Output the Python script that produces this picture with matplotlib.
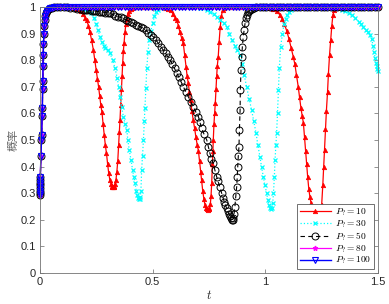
import numpy as np
import matplotlib
matplotlib.use("Agg")
import matplotlib.pyplot as plt

plt.rcParams['mathtext.fontset'] = 'cm'

# shared initial transient (all curves start together)
t_rise = [0.0, 0.0002, 0.0004, 0.0006, 0.0008, 0.001, 0.0012, 0.0014, 0.004, 0.0065,
          0.0075, 0.009, 0.0105, 0.0115, 0.0125, 0.0135, 0.0145, 0.0155, 0.017, 0.019,
          0.021, 0.024, 0.028, 0.033, 0.039, 0.046, 0.054, 0.062]
p_rise = [0.295, 0.30, 0.31, 0.32, 0.33, 0.34, 0.35, 0.36, 0.44, 0.50,
          0.52, 0.59, 0.62, 0.69, 0.72, 0.78, 0.82, 0.86, 0.90, 0.93,
          0.95, 0.965, 0.977, 0.986, 0.992, 0.996, 0.998, 1.0]

# P = 10
red_pts = [(0.075, 1.0), (0.09, 1.0), (0.105, 1.0), (0.12, 1.0), (0.135, 1.0), (0.15, 0.998),
           (0.165, 0.993), (0.18, 0.985), (0.19, 0.975), (0.2, 0.96), (0.207, 0.95), (0.215, 0.93),
           (0.222, 0.905), (0.229, 0.875), (0.237, 0.838), (0.243, 0.80), (0.249, 0.765), (0.255, 0.73),
           (0.26, 0.70), (0.265, 0.665), (0.27, 0.63), (0.275, 0.605), (0.28, 0.56), (0.285, 0.52),
           (0.29, 0.48), (0.295, 0.45), (0.3, 0.41), (0.305, 0.375), (0.31, 0.35), (0.315, 0.335),
           (0.318, 0.327), (0.321, 0.323), (0.324, 0.322), (0.327, 0.323), (0.33, 0.327), (0.333, 0.335),
           (0.337, 0.35), (0.341, 0.38), (0.345, 0.42), (0.349, 0.48), (0.352, 0.53), (0.355, 0.575),
           (0.358, 0.63), (0.361, 0.69), (0.364, 0.74), (0.367, 0.79), (0.37, 0.835), (0.373, 0.865),
           (0.377, 0.905), (0.381, 0.935), (0.385, 0.955), (0.39, 0.972), (0.396, 0.985), (0.403, 0.993),
           (0.41, 0.997), (0.42, 1.0), (0.435, 1.0), (0.45, 1.0), (0.465, 1.0), (0.48, 1.0),
           (0.495, 1.0), (0.51, 1.0), (0.525, 1.0), (0.54, 1.0), (0.555, 0.998), (0.57, 0.993),
           (0.58, 0.987), (0.59, 0.975), (0.6, 0.96), (0.607, 0.95), (0.614, 0.93), (0.621, 0.905),
           (0.628, 0.885), (0.636, 0.863), (0.642, 0.82), (0.648, 0.775), (0.653, 0.74), (0.658, 0.713),
           (0.663, 0.68), (0.668, 0.65), (0.674, 0.61), (0.68, 0.575), (0.686, 0.545), (0.692, 0.51),
           (0.698, 0.48), (0.703, 0.46), (0.708, 0.42), (0.713, 0.38), (0.717, 0.35), (0.722, 0.31),
           (0.727, 0.28), (0.732, 0.256), (0.736, 0.245), (0.74, 0.239), (0.744, 0.237), (0.748, 0.239),
           (0.752, 0.245), (0.756, 0.26), (0.759, 0.29), (0.762, 0.337), (0.765, 0.41), (0.767, 0.46),
           (0.769, 0.50), (0.772, 0.56), (0.775, 0.60), (0.778, 0.64), (0.781, 0.69), (0.784, 0.74),
           (0.787, 0.78), (0.791, 0.813), (0.795, 0.87), (0.8, 0.926), (0.805, 0.965), (0.81, 0.99),
           (0.818, 0.997), (0.826, 1.0), (0.84, 1.0), (0.855, 1.0), (0.87, 1.0), (0.885, 1.0),
           (0.9, 1.0), (0.915, 1.0), (0.93, 1.0), (0.945, 1.0), (0.96, 1.0), (0.975, 1.0),
           (0.99, 1.0), (1.005, 1.0), (1.02, 0.998), (1.035, 0.993), (1.05, 0.985), (1.065, 0.97),
           (1.075, 0.955), (1.085, 0.935), (1.095, 0.91), (1.105, 0.88), (1.115, 0.845), (1.124, 0.813),
           (1.131, 0.785), (1.138, 0.745), (1.146, 0.70), (1.152, 0.66), (1.158, 0.62), (1.164, 0.59),
           (1.169, 0.563), (1.174, 0.51), (1.179, 0.46), (1.183, 0.41), (1.188, 0.36), (1.193, 0.315),
           (1.198, 0.285), (1.203, 0.262), (1.208, 0.245), (1.213, 0.23), (1.218, 0.22), (1.223, 0.213),
           (1.228, 0.21), (1.233, 0.212), (1.238, 0.218), (1.243, 0.23), (1.247, 0.245), (1.25, 0.256),
           (1.255, 0.33), (1.259, 0.40), (1.263, 0.462), (1.267, 0.54), (1.271, 0.61), (1.276, 0.68),
           (1.28, 0.75), (1.285, 0.82), (1.29, 0.876), (1.295, 0.93), (1.3, 0.97), (1.306, 0.99),
           (1.314, 0.997), (1.322, 1.0), (1.335, 1.0), (1.35, 1.0), (1.365, 1.0), (1.38, 1.0),
           (1.395, 1.0), (1.41, 1.0), (1.425, 1.0), (1.44, 1.0), (1.455, 1.0), (1.47, 1.0),
           (1.485, 1.0), (1.5, 1.0)]

# P = 30
cyan_pts = [(0.075, 1.0), (0.09, 1.0), (0.105, 1.0), (0.12, 1.0), (0.135, 1.0), (0.15, 1.0),
            (0.165, 1.0), (0.18, 0.998), (0.195, 0.994), (0.21, 0.988), (0.225, 0.978), (0.24, 0.96),
            (0.25, 0.935), (0.258, 0.912), (0.266, 0.888), (0.274, 0.87), (0.282, 0.855), (0.29, 0.845),
            (0.3, 0.838), (0.311, 0.826), (0.322, 0.80), (0.333, 0.77), (0.343, 0.732), (0.349, 0.70),
            (0.355, 0.663), (0.362, 0.625), (0.37, 0.588), (0.378, 0.56), (0.385, 0.538), (0.39, 0.50),
            (0.396, 0.462), (0.404, 0.425), (0.411, 0.387), (0.417, 0.36), (0.422, 0.337), (0.427, 0.31),
            (0.431, 0.293), (0.435, 0.282), (0.439, 0.277), (0.442, 0.278), (0.445, 0.285), (0.448, 0.31),
            (0.451, 0.387), (0.455, 0.44), (0.459, 0.50), (0.463, 0.57), (0.466, 0.619), (0.47, 0.694),
            (0.474, 0.77), (0.479, 0.83), (0.485, 0.875), (0.492, 0.91), (0.5, 0.94), (0.508, 0.965),
            (0.516, 0.98), (0.525, 0.99), (0.535, 0.997), (0.545, 1.0), (0.56, 1.0), (0.575, 1.0),
            (0.59, 1.0), (0.605, 1.0), (0.62, 1.0), (0.635, 1.0), (0.65, 1.0), (0.665, 1.0),
            (0.68, 1.0), (0.695, 1.0), (0.71, 0.998), (0.725, 0.995), (0.74, 0.99), (0.755, 0.983),
            (0.77, 0.973), (0.785, 0.962), (0.8, 0.95), (0.815, 0.94), (0.828, 0.926), (0.84, 0.9),
            (0.852, 0.875), (0.864, 0.855), (0.876, 0.838), (0.888, 0.82), (0.897, 0.785), (0.906, 0.745),
            (0.917, 0.70), (0.928, 0.655), (0.939, 0.613), (0.949, 0.57), (0.959, 0.525), (0.967, 0.48),
            (0.976, 0.437), (0.983, 0.40), (0.991, 0.362), (0.998, 0.33), (1.006, 0.30), (1.011, 0.275),
            (1.016, 0.255), (1.021, 0.243), (1.025, 0.24), (1.029, 0.245), (1.033, 0.265), (1.036, 0.30),
            (1.04, 0.36), (1.043, 0.425), (1.047, 0.48), (1.05, 0.525), (1.054, 0.6), (1.058, 0.688),
            (1.062, 0.77), (1.068, 0.85), (1.076, 0.90), (1.083, 0.935), (1.09, 0.955), (1.097, 0.97),
            (1.105, 0.98), (1.115, 0.99), (1.125, 0.997), (1.14, 1.0), (1.155, 1.0), (1.17, 1.0),
            (1.185, 1.0), (1.2, 1.0), (1.215, 1.0), (1.23, 1.0), (1.245, 1.0), (1.26, 1.0),
            (1.275, 1.0), (1.29, 1.0), (1.305, 1.0), (1.325, 0.999), (1.34, 0.99), (1.355, 0.985),
            (1.37, 0.978), (1.385, 0.97), (1.4, 0.958), (1.415, 0.945), (1.425, 0.935), (1.435, 0.925),
            (1.445, 0.915), (1.455, 0.905), (1.465, 0.895), (1.472, 0.88), (1.478, 0.855), (1.483, 0.83),
            (1.487, 0.81), (1.491, 0.79), (1.494, 0.778), (1.497, 0.768), (1.5, 0.76)]

# P = 50
black_pts = [(0.075, 1.0), (0.09, 1.0), (0.105, 1.0), (0.12, 0.999), (0.135, 0.998), (0.15, 0.996),
             (0.165, 0.994), (0.178, 0.992), (0.19, 0.99), (0.2, 0.989), (0.21, 0.988), (0.22, 0.987),
             (0.23, 0.986), (0.24, 0.985), (0.25, 0.984), (0.26, 0.983), (0.27, 0.982), (0.28, 0.981),
             (0.29, 0.979), (0.3, 0.978), (0.311, 0.976), (0.322, 0.972), (0.334, 0.968), (0.346, 0.964),
             (0.358, 0.961), (0.37, 0.957), (0.381, 0.953), (0.392, 0.948), (0.403, 0.944), (0.414, 0.939),
             (0.425, 0.934), (0.436, 0.93), (0.447, 0.925), (0.459, 0.92), (0.47, 0.912), (0.481, 0.904),
             (0.492, 0.896), (0.503, 0.888), (0.514, 0.876), (0.525, 0.864), (0.536, 0.851), (0.547, 0.838),
             (0.557, 0.826), (0.567, 0.813), (0.577, 0.801), (0.587, 0.786), (0.597, 0.769), (0.607, 0.751),
             (0.617, 0.735), (0.627, 0.717), (0.636, 0.70), (0.647, 0.681), (0.658, 0.663), (0.669, 0.644),
             (0.68, 0.625), (0.691, 0.606), (0.703, 0.588), (0.71, 0.566), (0.717, 0.544), (0.728, 0.522),
             (0.74, 0.50), (0.747, 0.475), (0.754, 0.45), (0.761, 0.43), (0.769, 0.412), (0.776, 0.387),
             (0.784, 0.362), (0.79, 0.345), (0.797, 0.325), (0.806, 0.30), (0.812, 0.282), (0.818, 0.267),
             (0.823, 0.255), (0.828, 0.244), (0.833, 0.232), (0.838, 0.222), (0.843, 0.213), (0.847, 0.206),
             (0.851, 0.201), (0.855, 0.201), (0.858, 0.206), (0.861, 0.22), (0.865, 0.25), (0.869, 0.29),
             (0.873, 0.325), (0.875, 0.36), (0.877, 0.40), (0.88, 0.44), (0.883, 0.475), (0.885, 0.538),
             (0.888, 0.613), (0.889, 0.688), (0.892, 0.763), (0.895, 0.813), (0.898, 0.85), (0.902, 0.888),
             (0.906, 0.915), (0.91, 0.939), (0.914, 0.958), (0.917, 0.97), (0.922, 0.98), (0.927, 0.986),
             (0.932, 0.99), (0.94, 0.994), (0.95, 0.997), (0.96, 1.0), (0.975, 1.0), (0.99, 1.0),
             (1.005, 1.0), (1.02, 1.0), (1.035, 1.0), (1.05, 1.0), (1.065, 1.0), (1.08, 1.0),
             (1.095, 1.0), (1.11, 1.0), (1.125, 1.0), (1.14, 1.0), (1.155, 1.0), (1.17, 1.0),
             (1.185, 1.0), (1.2, 1.0), (1.215, 1.0), (1.23, 1.0), (1.245, 1.0), (1.26, 1.0),
             (1.275, 1.0), (1.29, 1.0), (1.305, 1.0), (1.32, 1.0), (1.335, 1.0), (1.35, 1.0),
             (1.365, 1.0), (1.38, 1.0), (1.395, 1.0), (1.41, 1.0), (1.425, 1.0), (1.44, 1.0),
             (1.455, 1.0), (1.47, 1.0), (1.485, 1.0), (1.5, 1.0)]

# P = 80 and P = 100 stay saturated after the transient
t_flat = [0.075, 0.09, 0.105, 0.12, 0.135, 0.15, 0.165, 0.18, 0.195, 0.21, 0.225, 0.24,
          0.255, 0.27, 0.285, 0.3, 0.315, 0.33, 0.345, 0.36, 0.375, 0.39, 0.405, 0.42,
          0.435, 0.45, 0.465, 0.48, 0.495, 0.51, 0.525, 0.54, 0.555, 0.57, 0.585, 0.6,
          0.615, 0.63, 0.645, 0.66, 0.675, 0.69, 0.705, 0.72, 0.735, 0.75, 0.765, 0.78,
          0.795, 0.81, 0.825, 0.84, 0.855, 0.87, 0.885, 0.9, 0.915, 0.93, 0.945, 0.96,
          0.975, 0.99, 1.005, 1.02, 1.035, 1.05, 1.065, 1.08, 1.095, 1.11, 1.125, 1.14,
          1.155, 1.17, 1.185, 1.2, 1.215, 1.23, 1.245, 1.26, 1.275, 1.29, 1.305, 1.32,
          1.335, 1.35, 1.365, 1.38, 1.395, 1.41, 1.425, 1.44, 1.455, 1.47, 1.485, 1.5]
p_m80 = [1.0, 1.0, 1.0, 1.0, 1.0, 1.0, 1.0, 1.0, 1.0, 1.0, 1.0, 1.0,
         1.0, 1.0, 1.0, 1.0, 1.0, 1.0, 1.0, 1.0, 1.0, 1.0, 1.0, 1.0,
         1.0, 1.0, 1.0, 1.0, 1.0, 1.0, 1.0, 1.0, 1.0, 1.0, 1.0, 1.0,
         1.0, 1.0, 1.0, 1.0, 1.0, 1.0, 1.0, 1.0, 1.0, 1.0, 1.0, 1.0,
         1.0, 1.0, 1.0, 1.0, 1.0, 1.0, 1.0, 1.0, 1.0, 1.0, 1.0, 1.0,
         1.0, 1.0, 1.0, 1.0, 1.0, 1.0, 1.0, 1.0, 1.0, 1.0, 1.0, 1.0,
         1.0, 1.0, 1.0, 1.0, 1.0, 1.0, 1.0, 1.0, 1.0, 1.0, 1.0, 1.0,
         1.0, 1.0, 1.0, 1.0, 1.0, 1.0, 1.0, 1.0, 1.0, 1.0, 1.0, 1.0]
p_b100 = [1.0, 1.0, 1.0, 1.0, 1.0, 1.0, 1.0, 1.0, 1.0, 1.0, 1.0, 1.0,
          1.0, 1.0, 1.0, 1.0, 1.0, 1.0, 1.0, 1.0, 1.0, 1.0, 1.0, 1.0,
          1.0, 1.0, 1.0, 1.0, 1.0, 1.0, 1.0, 1.0, 1.0, 1.0, 1.0, 1.0,
          1.0, 1.0, 1.0, 1.0, 1.0, 1.0, 1.0, 1.0, 1.0, 1.0, 1.0, 1.0,
          1.0, 1.0, 1.0, 1.0, 1.0, 1.0, 1.0, 1.0, 1.0, 1.0, 1.0, 1.0,
          1.0, 1.0, 1.0, 1.0, 1.0, 1.0, 1.0, 1.0, 1.0, 1.0, 1.0, 1.0,
          1.0, 1.0, 1.0, 1.0, 1.0, 1.0, 1.0, 1.0, 1.0, 1.0, 1.0, 1.0,
          1.0, 1.0, 1.0, 1.0, 1.0, 1.0, 1.0, 1.0, 1.0, 1.0, 1.0, 1.0]

labels = [r'$P_? = 10$', r'$P_? = 30$', r'$P_? = 50$', r'$P_? = 80$', r'$P_? = 100$']
x_ticks = [0, 0.5, 1, 1.5]
x_ticklabels = ['0', '0.5', '1', '1.5']
y_ticks = [0, 0.1, 0.2, 0.3, 0.4, 0.5, 0.6, 0.7, 0.8, 0.9, 1]
y_ticklabels = ['0', '0.1', '0.2', '0.3', '0.4', '0.5', '0.6', '0.7', '0.8', '0.9', '1']


def series(pts):
    t = list(t_rise) + [a for a, _ in pts]
    p = list(p_rise) + [b for _, b in pts]
    return t, p


fig = plt.figure(figsize=(3.89, 3.04), dpi=100)
ax = fig.add_axes([40 / 389, 31 / 304, 338 / 389, 266 / 304])

tr, pr = series(red_pts)
tc, pc = series(cyan_pts)
tk, pk = series(black_pts)
tm = list(t_rise) + t_flat
pm = list(p_rise) + p_m80
tb = list(t_rise) + t_flat
pb = list(p_rise) + p_b100

ax.plot(tr, pr, color='red', ls='-', lw=0.9, marker='^', ms=3.2, mfc='red', mec='red',
        mew=0.5, label=labels[0], clip_on=False)
ax.plot(tc, pc, color='cyan', ls=':', lw=0.9, marker='x', ms=3.5, mew=0.9,
        label=labels[1], clip_on=False)
ax.plot(tk, pk, color='black', ls='--', lw=0.8, marker='o', ms=5, mfc='none', mec='black',
        mew=0.7, label=labels[2], dashes=(4, 3), clip_on=False)
ax.plot(tm, pm, color='magenta', ls='-', lw=0.9, marker='*', ms=3.5, mfc='magenta', mec='magenta',
        label=labels[3], clip_on=False)
ax.plot(tb, pb, color='blue', ls='-', lw=1.0, marker='v', ms=4.5, mfc='none', mec='blue',
        mew=0.8, label=labels[4], clip_on=False)

ax.set_xlim(0, 1.5)
ax.set_ylim(0, 1)
ax.set_xticks(x_ticks)
ax.set_xticklabels(x_ticklabels)
ax.set_yticks(y_ticks)
ax.set_yticklabels(y_ticklabels)
for lab in ax.get_xticklabels() + ax.get_yticklabels():
    lab.set_family('Liberation Sans')
    lab.set_fontsize(8)
    lab.set_color('0.15')
ax.tick_params(direction='in', length=3, width=0.5, color='0.4', top=True, right=True,
               pad=3)
for s in ax.spines.values():
    s.set_color('0.45')
    s.set_linewidth(0.6)

ax.set_xlabel(r'$t$', fontsize=9, labelpad=1, color='0.15')
ax.set_ylabel('概率', family=['Noto Sans CJK SC', 'DejaVu Sans'], fontsize=8,
              color='0.4', labelpad=1)

leg = ax.legend(loc='upper left', bbox_to_anchor=(0.76, 0.26), fontsize=6.8,
                handlelength=3.3, handletextpad=0.4, labelspacing=0.02,
                borderpad=0.3, borderaxespad=0.0, fancybox=False, framealpha=1.0,
                edgecolor='0.35')
leg.get_frame().set_linewidth(0.6)

fig.savefig('out.png', dpi=100)
